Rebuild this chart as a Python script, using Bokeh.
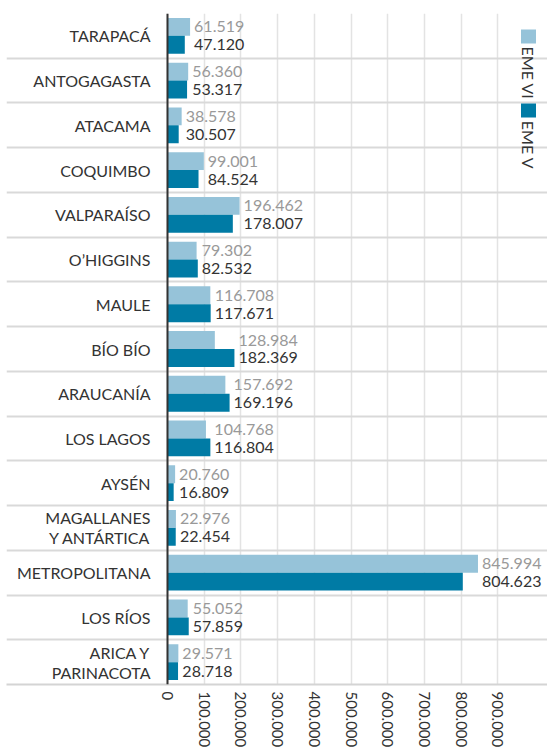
import math
from bokeh.plotting import figure
from bokeh.models import Range1d, FixedTicker, CustomJSTickFormatter, Span
from bokeh.core.properties import value
from bokeh.embed import file_html
from bokeh.resources import INLINE

# ---------------- data ----------------
regions = ["TARAPACÁ", "ANTOGAGASTA", "ATACAMA", "COQUIMBO", "VALPARAÍSO", "O’HIGGINS",
           "MAULE", "BÍO BÍO", "ARAUCANÍA", "LOS LAGOS", "AYSÉN", "MAGALLANES\nY ANTÁRTICA",
           "METROPOLITANA", "LOS RÍOS", "ARICA Y\nPARINACOTA"]
eme_vi = [61519, 56360, 38578, 99001, 196462, 79302, 116708, 128984, 157692, 104768,
          20760, 22976, 845994, 55052, 29571]
eme_v = [47120, 53317, 30507, 84524, 178007, 82532, 117671, 182369, 169196, 116804,
         16809, 22454, 804623, 57859, 28718]
x_ticks = [0, 100000, 200000, 300000, 400000, 500000, 600000, 700000, 800000, 900000]
series_names = ["EME VI", "EME V"]
series_colors = ["#96c3d9", "#007ba5"]

# ---------------- layout ----------------
FONT = value("Lato")
W, H = 547, 750
LEFT = 6                 # frame left border
FW = W - LEFT            # frame width
ZERO_PX = 161            # pixel position of zero inside the frame
K = 36.7 / 100000        # pixels per unit
X0 = -ZERO_PX / K
X1 = (FW - ZERO_PX) / K

n = len(regions)
centers = [n - i - 0.5 for i in range(n)]


def fmt(v):
    return f"{v:,}".replace(",", ".")


p = figure(width=W, height=H, x_range=Range1d(X0, X1), y_range=Range1d(0, n),
           output_backend="svg", toolbar_location=None, y_axis_location=None,
           min_border_left=LEFT, min_border_right=0, min_border_top=13, min_border_bottom=0)
p.outline_line_color = None
p.background_fill_color = "white"
p.border_fill_color = "white"

# grid
p.ygrid.visible = False
p.xaxis.ticker = FixedTicker(ticks=x_ticks)
p.xgrid.grid_line_color = "#e3e3e3"
p.xgrid.grid_line_width = 1.5

# x axis
p.xaxis.formatter = CustomJSTickFormatter(
    code="return tick.toFixed(0).replace(/\\B(?=(\\d{3})+(?!\\d))/g, '.');")
p.xaxis.major_label_orientation = "vertical"
p.xaxis.major_label_text_font = "Lato"
p.xaxis.major_label_text_font_size = "15px"
p.xaxis.major_label_text_color = "#333333"
p.xaxis.major_label_standoff = 7
p.xaxis.major_tick_line_color = None
p.xaxis.major_tick_out = 0
p.xaxis.major_tick_in = 0
p.xaxis.minor_tick_line_color = None
p.xaxis.axis_line_color = "#d4d4d4"
p.xaxis.axis_line_width = 2

# row separators
p.hspan(y=list(range(1, n)), line_color="#d9d9d9", line_width=2)

# bars
p.hbar(y=[c + 0.2 for c in centers], left=0, right=eme_vi, height=0.4,
       fill_color=series_colors[0], line_color=None)
p.hbar(y=[c - 0.2 for c in centers], left=0, right=eme_v, height=0.4,
       fill_color=series_colors[1], line_color=None)

# zero line
p.add_layout(Span(location=0, dimension="height", line_color="#333333", line_width=2))

# value labels
label_x = [max(a, b) for a, b in zip(eme_vi, eme_v)]
p.text(x=label_x, y=[c + 0.2 for c in centers], text=[fmt(v) for v in eme_vi],
       x_offset=4, text_baseline="middle", text_align="left",
       text_font=FONT, text_font_size="16px", text_color="#999999")
p.text(x=label_x, y=[c - 0.2 for c in centers], text=[fmt(v) for v in eme_v],
       x_offset=4, text_baseline="middle", text_align="left",
       text_font=FONT, text_font_size="16px", text_color="#333333")

# category labels
p.text(x=[0] * n, y=centers, text=regions, x_offset=-17,
       text_align="right", text_baseline="middle", text_line_height=1.05,
       text_font=FONT, text_font_size="16px", text_color="#333333")

# legend (rotated)
leg_x = X0 + (528 - LEFT) / K
sq_y = [n - 0.515, n - 2.17]
txt_y = [n - 0.74, n - 2.40]
p.rect(x=[leg_x] * 2, y=sq_y, width=15, height=14, width_units="screen",
       height_units="screen", fill_color=series_colors, line_color=None)
p.text(x=[leg_x] * 2, y=txt_y, text=series_names, angle=-math.pi / 2,
       text_align="left", text_baseline="middle",
       text_font=FONT, text_font_size="16px", text_color="#333333")

open("out.html", "w").write(file_html(p, INLINE))
